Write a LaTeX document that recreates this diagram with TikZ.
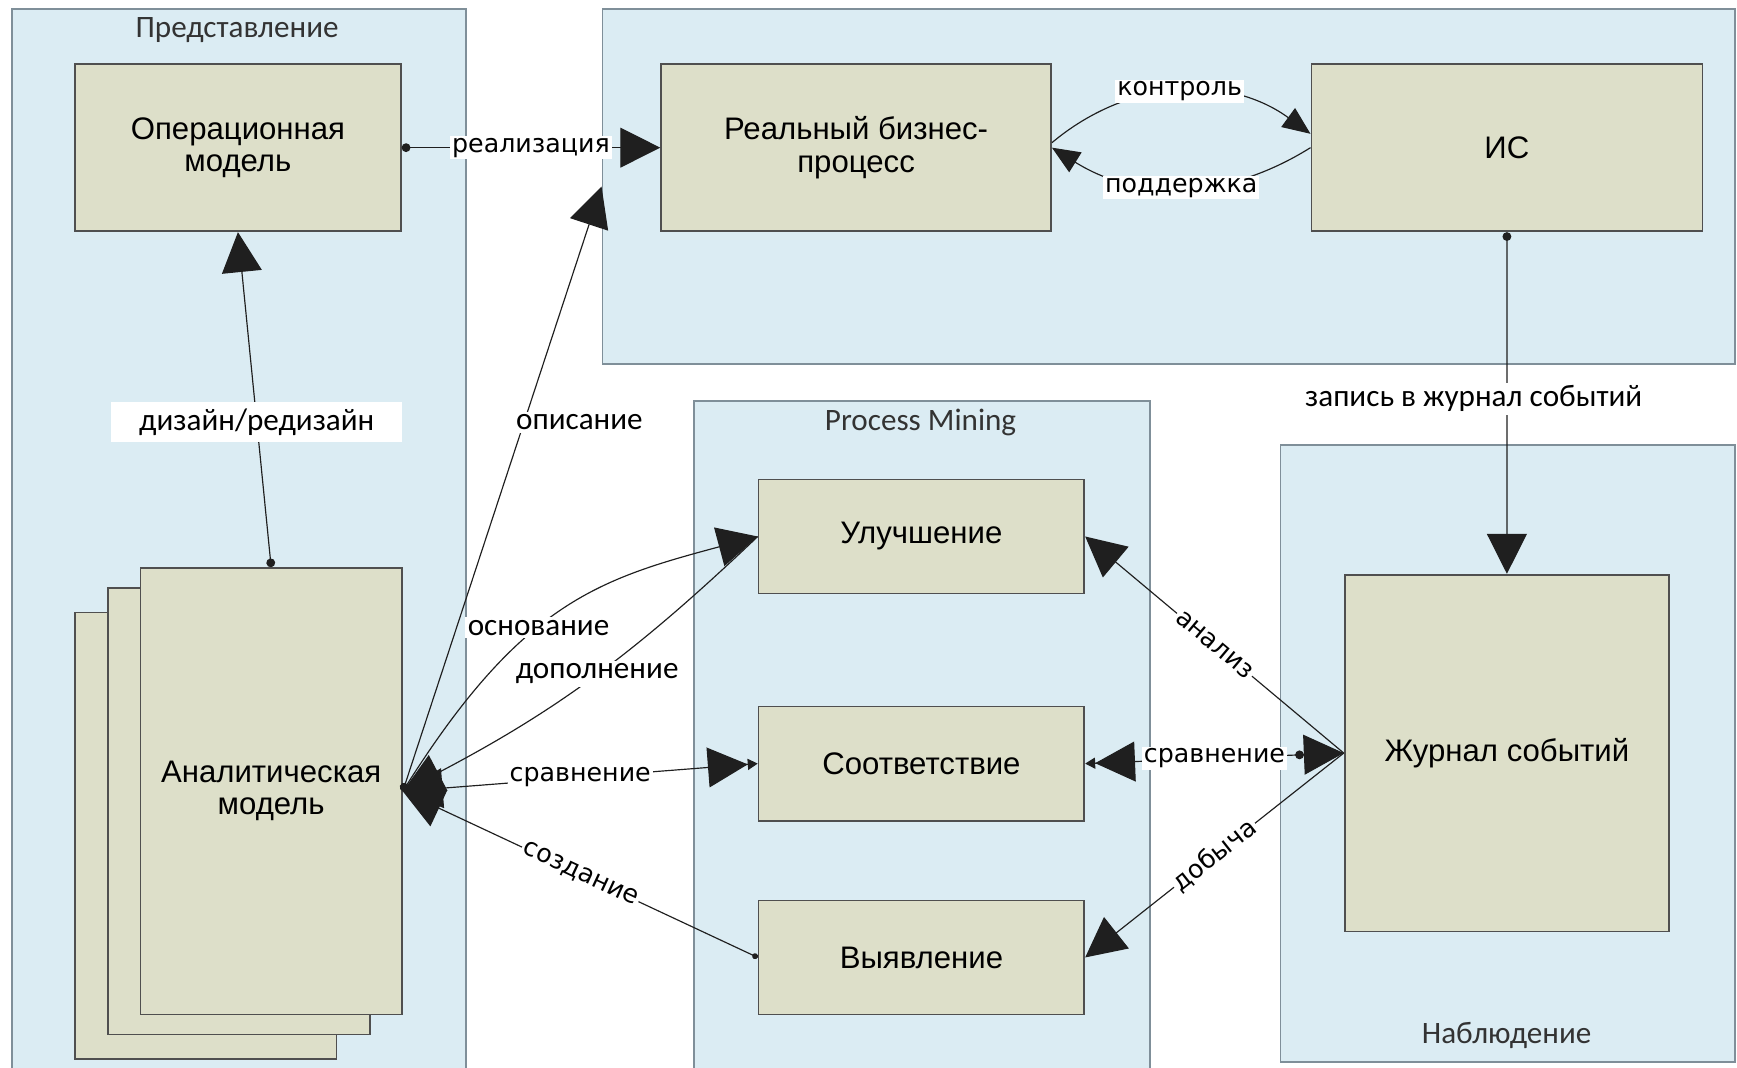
\documentclass[tikz,border=0pt]{standalone}
\usepackage{fontspec}
\setmainfont{Liberation Sans}
\newfontfamily\calfont{Carlito}
\newfontfamily\dvfont{DejaVu Sans}
\usetikzlibrary{positioning, arrows.meta, calc}

\definecolor{zonefill}{HTML}{DBECF3}
\definecolor{zoneline}{HTML}{7F8F99}
\definecolor{boxfill}{HTML}{DDDFC9}
\definecolor{boxline}{HTML}{4F4F4F}
\definecolor{linkcol}{HTML}{1F1F1F}

\tikzset{
  zone/.style={draw=zoneline, fill=zonefill, line width=1pt, inner sep=0pt, anchor=north west},
  zonetitle/.style={font=\calfont\fontsize{16}{19}\selectfont, text=black!80},
  box/.style={draw=boxline, fill=boxfill, line width=0.9pt, align=center, inner sep=0pt, anchor=north west, font=\fontsize{16}{16.5}\selectfont},
  link/.style={draw=linkcol, line width=0.6pt},
  dvlabel/.style={font=\dvfont\fontsize{13}{15}\selectfont, fill=white, inner sep=1pt},
  callabel/.style={font=\calfont\fontsize{16}{19}\selectfont, fill=white, inner sep=1.5pt},
  bigtri/.tip={Triangle[length=0.72cm, width=0.72cm]},
  midtri/.tip={Triangle[length=0.5cm, width=0.42cm]},
  twotri/.tip={Triangle[length=0.72cm, width=0.72cm] Triangle[length=0.18cm, width=0.2cm]},
  beadtri/.tip={Circle[length=4.5pt] Triangle[length=0.72cm, width=0.72cm]},
  bead/.tip={Circle[length=4.5pt]},
}

\begin{document}
\begin{tikzpicture}[x=0.2mm, y=0.2mm]
  \useasboundingbox (0,0) rectangle (1568,-964);

  % containers
  \node[zone, minimum width=8.2cm, minimum height=19.4cm] (pres) at (10,-7) {};
  \node[zone, minimum width=20.44cm, minimum height=6.42cm] (world) at (543,-7) {};
  \node[zone, minimum width=8.22cm, minimum height=12.3cm] (pm) at (626,-361) {};
  \node[zone, minimum width=8.2cm, minimum height=11.14cm] (obs) at (1155,-401) {};
  \node[zonetitle] (prestitle) at (214,-27) {Представление};
  \node[zonetitle] (pmtitle) at (831,-381) {Process Mining};
  \node[zonetitle] (obstitle) at (1360,-935) {Наблюдение};

  % boxes
  \node[box, minimum width=5.88cm, minimum height=3.02cm] (opm) at (67,-57) {Операционная\\модель};
  \node[box, minimum width=7.04cm, minimum height=3.02cm] (real) at (596,-57) {Реальный бизнес-\\процесс};
  \node[box, minimum width=7.06cm, minimum height=3.02cm] (is) at (1183,-57) {ИС};
  \node[box, minimum width=5.88cm, minimum height=2.06cm] (impr) at (684,-432) {Улучшение};
  \node[box, minimum width=5.88cm, minimum height=2.06cm] (conf) at (684,-637) {Соответствие};
  \node[box, minimum width=5.88cm, minimum height=2.06cm] (disc) at (684,-812) {Выявление};
  \node[box, minimum width=5.86cm, minimum height=6.44cm] (elog) at (1213,-518) {Журнал событий};
  \foreach \dx/\dy [count=\k] in {67/552, 97/530}
    \node[box, minimum width=4.72cm, minimum height=8.06cm] (sheet\k) at (\dx,-\dy) {};
  \node[box, minimum width=4.72cm, minimum height=8.06cm] (am) at (126,-512) {Аналитическая\\модель};

  % connectors
  \draw[link, {bead}-{bigtri}] (am.north) -- (opm.south)
    node[pos=0.434, callabel, minimum width=5.26cm, minimum height=0.72cm] {дизайн/редизайн};
  \draw[link, {bead}-{bigtri}] (opm.east) -- (real.west) node[midway, dvlabel] {реализация};
  \draw[link, {bead}-{bigtri}] (am.east) -- (world.west)
    node[pos=0.61, xshift=1cm, callabel] {описание};
  \draw[link, -{midtri}] ([yshift=0.09cm]real.east) to[bend left=38]
    node[dvlabel] {контроль} ([yshift=0.25cm]is.west);
  \draw[link, -{midtri}] (is.west) to[bend left=32]
    node[dvlabel] {поддержка} (real.east);
  \draw[link, {bead}-{bigtri}] (is.south) -- (elog.north)
    node[pos=0.487, xshift=-0.6cm, callabel] {запись в журнал событий};

  \draw[link, -{bigtri}] (am.east) .. controls +(58:200) and +(195:150) .. (impr.west)
    node[pos=0.42, callabel] {основание};
  \draw[link, -{bigtri}] (impr.west) to[bend left=8] node[pos=0.48, callabel] {дополнение} (am.east);
  \draw[link, {bigtri}-{twotri}] (am.east) -- (conf.west) node[midway, dvlabel] {сравнение};
  \draw[link, {Circle[length=3pt]}-{bigtri}] (disc.west) -- (am.east)
    node[midway, sloped, dvlabel] {создание};

  \draw[link, -{bigtri}] (elog.west) -- (impr.east) node[midway, sloped, dvlabel] {анализ};
  \draw[link, {beadtri}-{twotri}] (elog.west) -- (conf.east) node[midway, dvlabel] {сравнение};
  \draw[link, -{bigtri}] (elog.west) -- (disc.east) node[midway, sloped, dvlabel] {добыча};
\end{tikzpicture}
\end{document}
